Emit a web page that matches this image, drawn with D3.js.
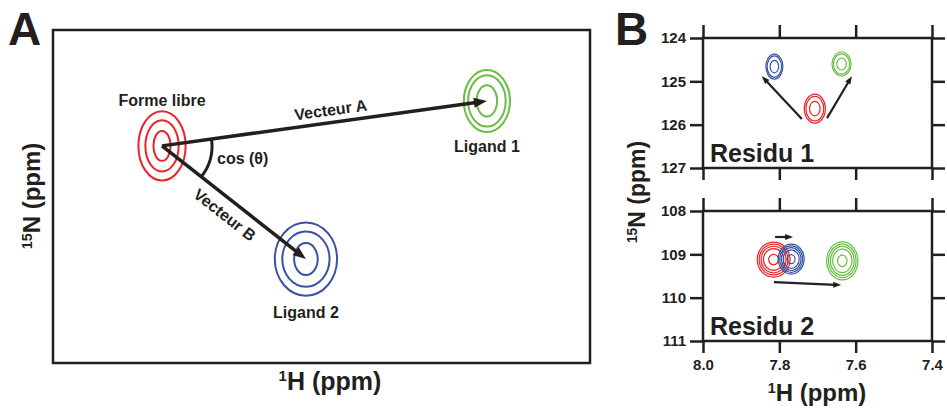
<!DOCTYPE html>
<html lang="fr">
  <head>
    <meta charset="utf-8">
    <title>Perturbation de deplacement chimique</title>
    <script src="https://d3js.org/d3.v7.min.js"></script>
    <style>
      body { margin: 0; background: #fff; }
      text { font-family: "Liberation Sans", Arial, sans-serif; font-weight: bold; fill: #231f20; }
    </style>
  </head>
  <body>
    <script type="text/javascript">
    // ---- Panel A (schematic, arbitrary units 0-100, no ticks) ----
    var peakLabelsA = ["Forme libre", "Ligand 1", "Ligand 2"];
    var peakXA = [20.3, 80.8, 47.1];
    var peakYA = [34.8, 21.3, 68.8];
    // contour half-widths: outer, middle, inner
    var peakRxA = [[4.4, 3.1, 1.6], [4.3, 3.5, 1.9], [5.8, 4.4, 2.2]];
    var peakRyA = [[10.4, 7.7, 4.5], [9.3, 7.7, 4.7], [11.0, 8.3, 4.8]];
    var vectorLabels = ["Vecteur A", "Vecteur B"];
    var vectorTo = [1, 2];

    // ---- Panel B (1H / 15N, ppm) ----
    var hTicks = [8.0, 7.8, 7.6, 7.4];
    var n1Ticks = [124, 125, 126, 127];
    var n2Ticks = [108, 109, 110, 111];
    // order: libre (red), ligand 2 (blue), ligand 1 (green)
    var res1H = [7.707, 7.813, 7.637];
    var res1N = [125.63, 124.66, 124.60];
    var res1wH = [0.0275, 0.0223, 0.025];
    var res1wN = [0.335, 0.289, 0.277];
    var res2H = [7.815, 7.769, 7.635];
    var res2N = [109.12, 109.11, 109.15];
    var res2wH = [0.043, 0.034, 0.041];
    var res2wN = [0.404, 0.346, 0.439];
    var res1Arrows = [[7.741, 125.87, 7.846, 124.88], [7.675, 125.85, 7.610, 124.88]];
    var res2Arrows = [[7.811, 108.60, 7.764, 108.60], [7.814, 109.64, 7.638, 109.71]];

    var colors = ["#ec2227", "#6abd45", "#3953a4"];   // panel A order
    var colorsB = ["#ec2227", "#3953a4", "#6abd45"];  // panel B order
    var dark = "#231f20";

    var w = 947, h = 410;
    var svg = d3.select("body").append("svg")
                .attr("width", w)
                .attr("height", h);

    function arrow(g, x1, y1, x2, y2, sw, hl, hw) {
      var a = Math.atan2(y2 - y1, x2 - x1);
      var c = Math.cos(a), s = Math.sin(a);
      g.append("line")
       .attr("x1", x1).attr("y1", y1)
       .attr("x2", x2 - c * hl * 0.7).attr("y2", y2 - s * hl * 0.7)
       .attr("stroke", dark).attr("stroke-width", sw);
      var bx = x2 - c * hl, by = y2 - s * hl;
      g.append("path")
       .attr("d", "M" + x2 + "," + y2 +
                  "L" + (bx - s * hw / 2) + "," + (by + c * hw / 2) +
                  "L" + (bx + s * hw / 2) + "," + (by - c * hw / 2) + "Z")
       .attr("fill", dark);
    }

    function supTitle(g, sup, main, size) {
      var t = g.append("text").attr("text-anchor", "middle").attr("font-size", size);
      t.append("tspan").attr("font-size", size * 0.6).attr("dy", -size * 0.35).text(sup);
      t.append("tspan").attr("dy", size * 0.35).text(main);
      return t;
    }

    // ===== Panel A =====
    var xA = d3.scaleLinear().domain([0, 100]).range([53, 590]);
    var yA = d3.scaleLinear().domain([0, 100]).range([30, 363]);
    var gA = svg.append("g");

    gA.append("rect")
      .attr("x", xA(0)).attr("y", yA(0))
      .attr("width", xA(100) - xA(0)).attr("height", yA(100) - yA(0))
      .attr("fill", "none").attr("stroke", dark).attr("stroke-width", 2.5);

    gA.append("text").attr("x", 8).attr("y", 45).attr("font-size", 46).text("A");

    peakXA.forEach(function(px, i) {
      d3.range(3).forEach(function(k) {
        gA.append("ellipse")
          .attr("cx", xA(px)).attr("cy", yA(peakYA[i]))
          .attr("rx", Math.abs(xA(peakRxA[i][k]) - xA(0)))
          .attr("ry", Math.abs(yA(peakRyA[i][k]) - yA(0)))
          .attr("fill", "none").attr("stroke", colors[i]).attr("stroke-width", 2);
      });
    });

    var cx0 = xA(peakXA[0]), cy0 = yA(peakYA[0]);
    var angles = [];
    vectorTo.forEach(function(j, i) {
      var tx = xA(peakXA[j]), ty = yA(peakYA[j]);
      arrow(gA, cx0, cy0, tx, ty, 3.5, 13, 10);
      var ang = Math.atan2(ty - cy0, tx - cx0);
      angles.push(ang);
      var along = i === 0 ? 172 : 92;
      var off = i === 0 ? -7 : 21;
      gA.append("text")
        .attr("transform", "translate(" + (cx0 + Math.cos(ang) * along) + "," + (cy0 + Math.sin(ang) * along) +
              ") rotate(" + (ang * 180 / Math.PI) + ")")
        .attr("y", off)
        .attr("text-anchor", "middle")
        .attr("font-size", 16)
        .text(vectorLabels[i]);
    });

    var arcPath = d3.path();
    arcPath.arc(cx0, cy0, 50, angles[0], angles[1]);
    gA.append("path").attr("d", arcPath.toString())
      .attr("fill", "none").attr("stroke", dark).attr("stroke-width", 3);
    gA.append("text").attr("x", cx0 + 55).attr("y", cy0 + 18)
      .attr("font-size", 16).text("cos (\u03b8)");

    // peak labels
    var labelOffsets = [-40, 51, 59];
    peakLabelsA.forEach(function(l, i) {
      gA.append("text")
        .attr("x", xA(peakXA[i])).attr("y", yA(peakYA[i]) + labelOffsets[i])
        .attr("text-anchor", "middle").attr("font-size", 16).text(l);
    });

    supTitle(gA, "1", "H (ppm)", 25).attr("x", 330).attr("y", 390);
    supTitle(gA, "15", "N (ppm)", 24).attr("transform", "translate(40,196) rotate(-90)");

    // ===== Panel B =====
    var xB = d3.scaleLinear().domain([8.0, 7.4]).range([703, 932]);
    var y1 = d3.scaleLinear().domain([124, 127]).range([38, 168]);
    var y2 = d3.scaleLinear().domain([108, 111]).range([211, 341]);
    var gB = svg.append("g");

    gB.append("text").attr("x", 615).attr("y", 45).attr("font-size", 46).text("B");

    function panel(yScale, ticks, hVals, nVals, wH, wN, arrows, levels, label, showX) {
      var g = gB.append("g");
      var top = yScale.range()[0], bot = yScale.range()[1];
      var left = xB.range()[0], right = xB.range()[1];

      g.append("g").attr("transform", "translate(" + left + ",0)")
       .call(d3.axisLeft(yScale).tickValues(ticks).tickSize(13).tickSizeOuter(0).tickPadding(4).tickFormat(d3.format("d")));
      g.append("g").attr("transform", "translate(" + right + ",0)")
       .call(d3.axisRight(yScale).tickValues(ticks).tickSize(13).tickSizeOuter(0).tickFormat(""));
      g.append("g").attr("transform", "translate(0," + top + ")")
       .call(d3.axisTop(xB).tickValues(hTicks).tickSize(13).tickSizeOuter(0).tickFormat(""));
      g.append("g").attr("transform", "translate(0," + bot + ")")
       .call(d3.axisBottom(xB).tickValues(hTicks).tickSize(12).tickSizeOuter(0).tickPadding(6)
              .tickFormat(showX ? d3.format(".1f") : ""));

      g.selectAll(".domain").remove();
      g.selectAll(".tick line").attr("stroke", dark).attr("stroke-width", 2.5);
      g.selectAll(".tick text").attr("font-size", 15).attr("fill", dark)
       .attr("font-family", "'Liberation Sans', Arial, sans-serif").attr("font-weight", "bold");

      g.append("rect").attr("x", left).attr("y", top)
       .attr("width", right - left).attr("height", bot - top)
       .attr("fill", "none").attr("stroke", dark).attr("stroke-width", 2.5);

      hVals.forEach(function(hv, i) {
        var rx = Math.abs(xB(hv + wH[i]) - xB(hv));
        var ry = Math.abs(yScale(nVals[i] + wN[i]) - yScale(nVals[i]));
        levels.forEach(function(f) {
          g.append("ellipse")
           .attr("cx", xB(hv)).attr("cy", yScale(nVals[i]))
           .attr("rx", rx * f)
           .attr("ry", ry * f)
           .attr("fill", "none").attr("stroke", colorsB[i]).attr("stroke-width", 1.2);
        });
      });

      arrows.forEach(function(a) {
        arrow(g, xB(a[0]), yScale(a[1]), xB(a[2]), yScale(a[3]), 2.2, 8, 6);
      });

      g.append("text").attr("x", left + 7).attr("y", bot - 6)
       .attr("font-size", 25).text(label);
    }

    panel(y1, n1Ticks, res1H, res1N, res1wH, res1wN, res1Arrows, [1, 0.85, 0.5], "Residu 1", false);
    panel(y2, n2Ticks, res2H, res2N, res2wH, res2wN, res2Arrows, [1, 0.88, 0.76, 0.62, 0.3], "Residu 2", true);

    supTitle(gB, "1", "H (ppm)", 24).attr("x", 817).attr("y", 401);
    supTitle(gB, "15", "N (ppm)", 23).attr("transform", "translate(645,192) rotate(-90)");
    </script>
  </body>
</html>
